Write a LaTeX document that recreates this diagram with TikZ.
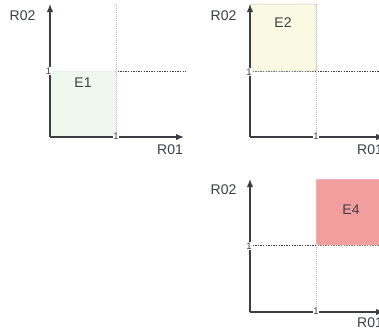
\documentclass[tikz,border=0pt]{standalone}
\usepackage{fontspec}
\setmainfont{Liberation Sans}
\usetikzlibrary{arrows.meta}
\definecolor{axc}{HTML}{3B3F45}
\definecolor{gfill}{HTML}{EEF8EC}
\definecolor{yfill}{HTML}{FAFAE3}
\definecolor{rfill}{HTML}{F29E9E}
\tikzset{
  axis/.style={draw=axc, line width=1.3pt, -{Latex[length=8pt,width=6.5pt]}},
  guide/.style={draw=black!30, line width=0.5pt, dash pattern=on 1pt off 1pt},
  hguide/.style={draw=axc, line width=0.9pt, dash pattern=on 1.3pt off 1.3pt},
  lbl/.style={text=axc, font=\fontsize{14}{16}\selectfont, inner sep=0pt},
  tick/.style={text=axc, font=\fontsize{9.5}{10}\selectfont, inner sep=0.5pt, fill=white},
  region/.style={rounded corners=2pt, line width=0.5pt}
}
\begin{document}
\begin{tikzpicture}[x=1pt,y=-1pt]
\useasboundingbox (0,0) rectangle (379,333);
\clip (0,0) rectangle (379,333);
% ---------- panel 1 ----------
\coordinate (o1) at (50,137);
\coordinate (y1) at (50,4);
\coordinate (x1) at (184,137);
\draw[guide] (116,4) -- (116,137);
\draw[hguide] (50,71) -- (186,71);
\draw[region, draw=black!10, fill=gfill] (50,71) rectangle (116,137);
\draw[axis] (o1) -- (y1);
\draw[axis] (o1) -- (x1);
\node[lbl] (r02a) at (22.5,16) {R02};
\node[lbl] (r01a) at (170,150) {R01};
\node[lbl] (e1) at (83,83) {E1};
\node[tick] (t1a) at (48.5,71) {1};
\node[tick] (t1b) at (116,136.5) {1};
% ---------- panel 2 ----------
\coordinate (o2) at (250,137);
\coordinate (y2) at (250,4);
\coordinate (x2) at (384,137);
\draw[guide] (316,4) -- (316,137);
\draw[hguide] (250,71) -- (386,71);
\draw[region, draw=black!25, fill=yfill] (250,4) rectangle (316,71);
\draw[axis] (o2) -- (y2);
\draw[axis] (o2) -- (x2);
\node[lbl] (r02b) at (223.5,16) {R02};
\node[lbl, anchor=west] (r01b) at (357,150) {R01};
\node[lbl] (e2) at (283,23) {E2};
\node[tick] (t2a) at (249,72) {1};
\node[tick] (t2b) at (316,136.5) {1};
% ---------- panel 4 ----------
\coordinate (o4) at (250,312);
\coordinate (y4) at (250,179);
\coordinate (x4) at (384,312);
\draw[guide] (316,179) -- (316,312);
\draw[hguide] (250,245) -- (386,245);
\draw[region, draw=black!15, fill=rfill] (316,179) rectangle (390,245);
\draw[axis] (o4) -- (y4);
\draw[axis] (o4) -- (x4);
\node[lbl] (r02c) at (223.5,190) {R02};
\node[lbl, anchor=west] (r01c) at (357,323) {R01};
\node[lbl] (e4) at (351,210) {E4};
\node[tick] (t4a) at (249,246) {1};
\node[tick] (t4b) at (316,311.5) {1};
\end{tikzpicture}
\end{document}
